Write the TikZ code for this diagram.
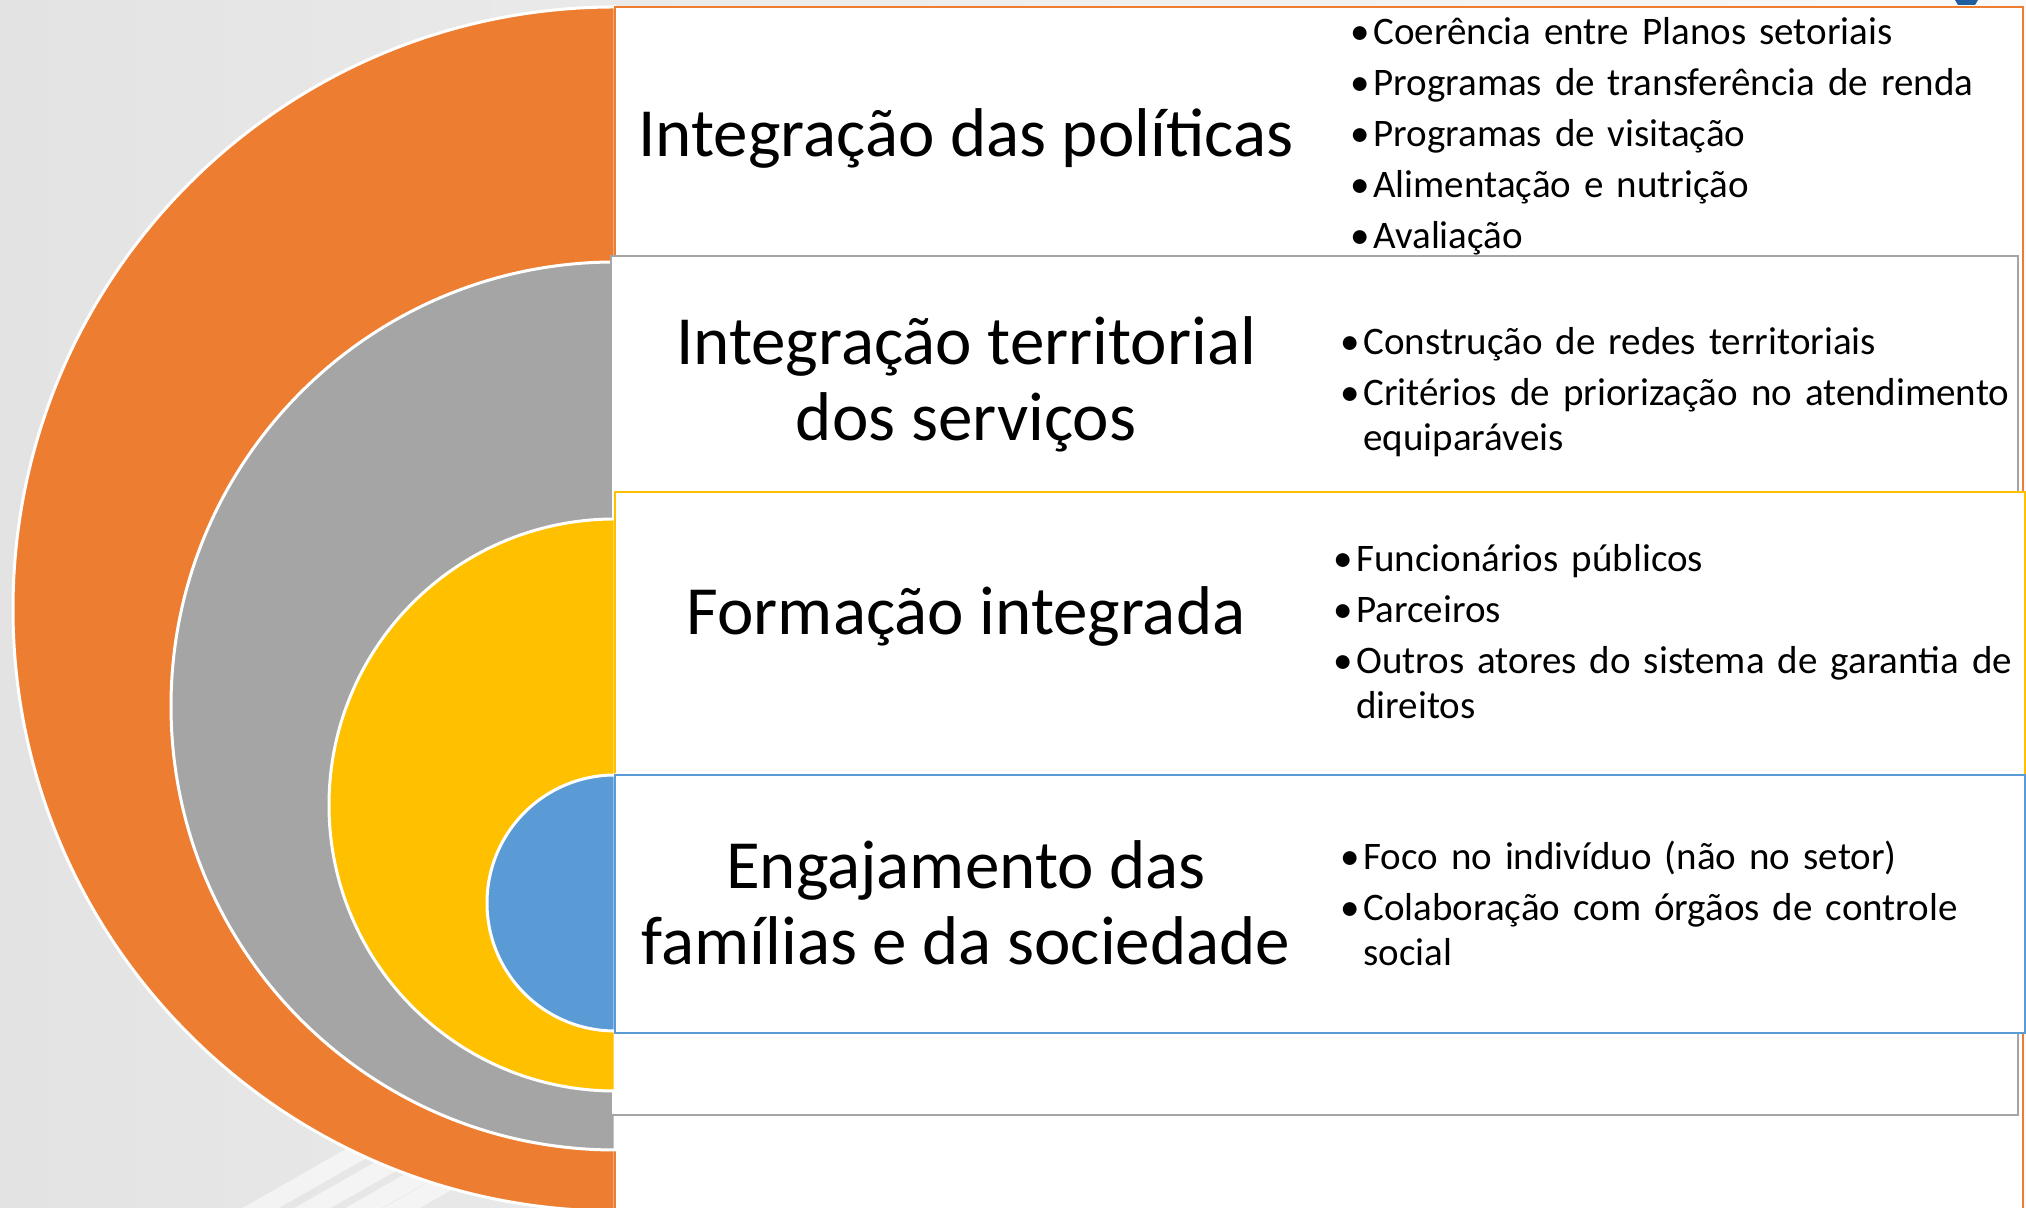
\documentclass[tikz,border=0pt]{standalone}
\usepackage{fontspec}
\setmainfont{Carlito}
\usepackage{tikz}
\definecolor{laranja}{HTML}{ED7D31}
\definecolor{cinza}{HTML}{A5A5A5}
\definecolor{amarelo}{HTML}{FFC000}
\definecolor{azul}{HTML}{5B9BD5}
\definecolor{azulescuro}{HTML}{1F5F9F}
\tikzstyle{semicirculo} = [draw=white, line width=1.5pt]
\tikzstyle{caixa} = [fill=white, line width=1.25pt]
\tikzstyle{titulo} = [align=center, inner sep=0pt, text=black,
    font=\fontsize{34.5}{38}\selectfont]
\tikzstyle{lista} = [anchor=base west, inner sep=0pt, text width=360pt, align=left,
    font=\fontsize{19.5}{22.5}\selectfont, execute at begin node={\setlength{\parskip}{3pt}}]
\newcommand{\marcador}[1]{\hangindent=0.59em\hangafter=1\makebox[0.59em][l]{\textbullet}#1\par}

\begin{document}
\begin{tikzpicture}[x=0.5pt, y=0.5pt]
    \useasboundingbox (0,0) rectangle (2026,1208);
    \clip (0,0) rectangle (2026,1208);
    \shade[left color=black!11, right color=black!2] (0,0) rectangle (2026,1208);
    \foreach \sx in {243,295,346,384}
        \draw[white, opacity=0.55, line width=9pt] (\sx,-10) -- ++(130,74);
    \fill[azulescuro] (1955,1208) -- (1978,1208) -- (1975,1203) -- (1958,1203) -- cycle;

    \path[semicirculo, fill=laranja] (615,1201) arc[start angle=90, end angle=270, radius=602] -- cycle;
    \draw[caixa, draw=laranja] (615,1201) rectangle (2023,-20);
    \path[semicirculo, fill=cinza] (615,946) arc[start angle=90, end angle=270, radius=444] -- cycle;
    \draw[caixa, draw=cinza] (611,952) rectangle (2018,93);
    \path[semicirculo, fill=amarelo] (615,689) arc[start angle=90, end angle=270, radius=286] -- cycle;
    \draw[caixa, draw=amarelo] (615,716) rectangle (2025,185);
    \path[semicirculo, fill=azul] (615,433) arc[start angle=90, end angle=270, radius=128] -- cycle;
    \draw[caixa, draw=azul] (615,433) rectangle (2025,175);

    \node[titulo] (politicas) at (966,1070) {Integração das políticas};
    \node[titulo] (territorial) at (966,824) {Integração territorial\\dos serviços};
    \node[titulo] (formacao) at (966,592) {Formação integrada};
    \node[titulo] (engajamento) at (966,305) {Engajamento das\\famílias e da sociedade};

    \node[lista] (listapoliticas) at (1350,1163) {%
        \marcador{Coerência entre Planos setoriais}
        \marcador{Programas de transferência de renda}
        \marcador{Programas de visitação}
        \marcador{Alimentação e nutrição}
        \marcador{Avaliação}};
    \node[lista] (listaterritorial) at (1340,853) {%
        \marcador{Construção de redes territoriais}
        \marcador{Critérios de priorização no atendimento\newline equiparáveis}};
    \node[lista] (listaformacao) at (1333,636) {%
        \marcador{Funcionários públicos}
        \marcador{Parceiros}
        \marcador{Outros atores do sistema de garantia de\newline direitos}};
    \node[lista] (listaengajamento) at (1340,338) {%
        \marcador{Foco no indivíduo (não no setor)}
        \marcador{Colaboração com órgãos de controle\newline social}};
\end{tikzpicture}
\end{document}
